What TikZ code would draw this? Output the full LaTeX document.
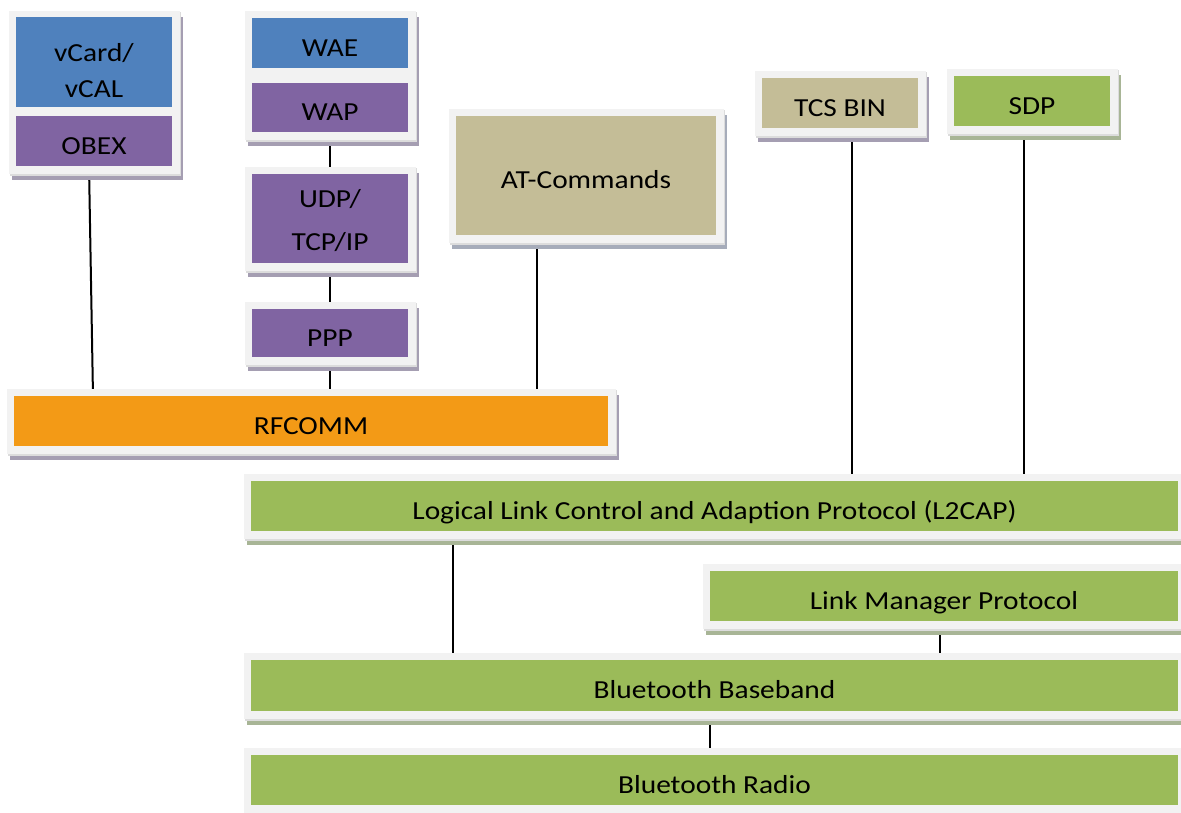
\documentclass[tikz,border=0pt]{standalone}
\usepackage{fontspec}
\setmainfont{Carlito}[FakeStretch=1.13]
\usetikzlibrary{calc}
\definecolor{cblue}{HTML}{4F81BD}
\definecolor{cpurple}{HTML}{8064A2}
\definecolor{ctan}{HTML}{C4BD97}
\definecolor{cgreen}{HTML}{9BBB59}
\definecolor{corange}{HTML}{F39A16}
\definecolor{framegray}{HTML}{F2F2F2}
\definecolor{edgegray}{HTML}{DCDCDC}
\definecolor{shpurple}{HTML}{A59EB2}
\definecolor{shgreen}{HTML}{A8B596}
\definecolor{shblue}{HTML}{A6ACBA}
\pgfdeclarelayer{background}
\pgfsetlayers{background,main}
\tikzset{
  layer/.style={draw=none, inner sep=0pt, outer sep=0pt, text=black,
    font=\fontsize{26}{31}\selectfont, text height=26pt, text depth=0pt},
  layertwo/.style={draw=none, inner sep=0pt, outer sep=0pt, text=black, align=center},
  conn/.style={draw=black, line width=2pt}
}
% #1 name, #2 x1, #3 y1, #4 x2, #5 y2, #6 fill, #7 shadow, #8 style, #9 text
\newcommand\layerbox[9]{%
  \fill[#7] (#2-4.5,#3-1.5) rectangle (#4+10.5,#5+13.5);
  \fill[edgegray] (#2-6,#3-6) rectangle (#4+9,#5+9.5);
  \fill[framegray] (#2-7.5,#3-7.5) rectangle (#4+7.5,#5+7.5);
  \node[#8, fill=#6, minimum width={#4-#2}, minimum height={#5-#3}] (#1) at ({(#2+#4)/2},{(#3+#5)/2}) {#9};
}
\begin{document}
\begin{tikzpicture}[x=1pt,y=-1pt]
\useasboundingbox (0,0) rectangle (1181,812);
\clip (0,0) rectangle (1181,812);
\layerbox{vcard}{16}{18}{172}{106}{cblue}{shpurple}{layertwo,font=\fontsize{26}{36}\selectfont}{\rule{0pt}{44pt}vCard/\\vCAL\rule[-10pt]{0pt}{10pt}}
\layerbox{obex}{16}{116}{172}{166}{cpurple}{shpurple}{layer}{OBEX}
\layerbox{wae}{252}{18}{408}{68}{cblue}{shpurple}{layer}{WAE}
\layerbox{wap}{252}{83}{408}{132}{cpurple}{shpurple}{layer}{WAP}
\layerbox{udp}{252}{174}{408}{263}{cpurple}{shpurple}{layertwo,font=\fontsize{26}{43}\selectfont}{\rule{0pt}{30pt}UDP/\\TCP/IP\rule[-10pt]{0pt}{10pt}}
\layerbox{ppp}{252}{309}{408}{357}{cpurple}{shpurple}{layer}{PPP}
\layerbox{at}{456}{116}{716}{235}{ctan}{shblue}{layer}{AT-Commands}
\layerbox{tcs}{762}{78}{918}{128}{ctan}{shpurple}{layer}{TCS BIN}
\layerbox{sdp}{954}{76}{1110}{126}{cgreen}{shgreen}{layer}{SDP}
\layerbox{rfcomm}{14}{396}{608}{446}{corange}{shpurple}{layer}{RFCOMM}
\layerbox{l2cap}{251}{481}{1178}{531}{cgreen}{shgreen}{layer}{Logical Link Control and Adaption Protocol (L2CAP)}
\layerbox{lmp}{710}{571}{1178}{621}{cgreen}{shgreen}{layer}{Link Manager Protocol}
\layerbox{base}{251}{660}{1178}{711}{cgreen}{shgreen}{layer}{Bluetooth Baseband}
\layerbox{radio}{251}{755}{1178}{805}{cgreen}{shgreen}{layer}{Bluetooth Radio}
\coordinate (obexlo) at ([xshift=-5pt]obex.south);
\coordinate (rfin) at ([xshift=79pt]rfcomm.north west);
\coordinate (atlo) at ([xshift=-49pt]at.south);
\coordinate (tcslo) at ([xshift=12pt]tcs.south);
\coordinate (sdplo) at ([xshift=-8pt]sdp.south);
\coordinate (l2lo) at ([xshift=202pt]l2cap.south west);
\coordinate (lmplo) at ([xshift=-4pt]lmp.south);
\coordinate (baselo) at ([xshift=-4.5pt]base.south);
\begin{pgfonlayer}{background}
\draw[conn] (obexlo) -- (rfin);
\draw[conn] (wap.south) -- (udp.north);
\draw[conn] (udp.south) -- (ppp.north);
\draw[conn] (ppp.south) -- (ppp.south |- rfcomm.north);
\draw[conn] (atlo) -- (atlo |- rfcomm.north);
\draw[conn] (tcslo) -- (tcslo |- l2cap.north);
\draw[conn] (sdplo) -- (sdplo |- l2cap.north);
\draw[conn] (l2lo) -- (l2lo |- base.north);
\draw[conn] (lmplo) -- (lmplo |- base.north);
\draw[conn] (baselo) -- (baselo |- radio.north);
\end{pgfonlayer}
\end{tikzpicture}
\end{document}
